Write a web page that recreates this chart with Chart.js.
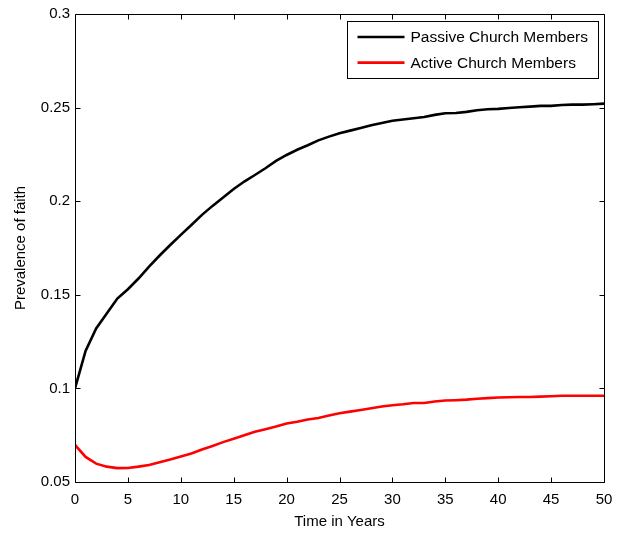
<!DOCTYPE html>
<html>
<head>
<meta charset="utf-8">
<script src="https://cdn.jsdelivr.net/npm/chart.js@4/dist/chart.umd.min.js"></script>
<style>
  html, body { margin: 0; padding: 0; background: #fff; }
  #wrap { width: 627px; height: 533px; }
</style>
</head>
<body>
<div id="wrap"><canvas id="c" width="627" height="533"></canvas></div>
<script>
const years = [0,1,2,3,4,5,6,7,8,9,10,11,12,13,14,15,16,17,18,19,20,21,22,23,24,25,26,27,28,29,30,31,32,33,34,35,36,37,38,39,40,41,42,43,44,45,46,47,48,49,50];
const passive = [0.100,0.120,0.132,0.140,0.148,0.153,0.1587,0.165,0.171,0.1766,0.182,0.1873,0.1927,0.1975,0.202,0.2065,0.2105,0.2140,0.2176,0.2215,0.2247,0.2275,0.2299,0.2325,0.2345,0.2363,0.2377,0.2391,0.2406,0.2418,0.2430,0.2436,0.2443,0.2450,0.2461,0.2470,0.2471,0.2477,0.2486,0.2491,0.2493,0.2498,0.2502,0.2505,0.2509,0.2509,0.2514,0.2516,0.2516,0.2518,0.2521];
const active = [0.0698,0.0634,0.0598,0.0582,0.0574,0.0575,0.0582,0.0591,0.0606,0.0620,0.0636,0.0652,0.0674,0.0692,0.0713,0.0731,0.0750,0.0768,0.0782,0.0796,0.0812,0.0822,0.0834,0.0842,0.0855,0.0867,0.0876,0.0885,0.0894,0.0903,0.0910,0.0915,0.0922,0.0922,0.0930,0.0935,0.0937,0.0940,0.0945,0.0948,0.0951,0.0953,0.0954,0.0954,0.0956,0.0958,0.0961,0.0961,0.0961,0.0961,0.0961];
const seriesLabels = ['Passive Church Members', 'Active Church Members'];
const xTicks = [0,5,10,15,20,25,30,35,40,45,50];
const yTicks = [0.05,0.1,0.15,0.2,0.25,0.3];
const xTitle = 'Time in Years';
const yTitle = 'Prevalence of faith';

const FONT = 'Arial, "Liberation Sans", sans-serif';

const boxPlugin = {
  id: 'boxTicks',
  afterDatasetsDraw(chart) {
    const ctx = chart.ctx;
    const a = chart.chartArea;
    const xs = chart.scales.x, ys = chart.scales.y;
    ctx.save();
    ctx.strokeStyle = '#000';
    ctx.lineWidth = 1;
    const L = Math.round(a.left) + 0.5, R = Math.round(a.right) + 0.5;
    const T = Math.round(a.top) + 0.5, B = Math.round(a.bottom) + 0.5;
    ctx.beginPath();
    ctx.rect(L, T, R - L, B - T);
    ctx.stroke();
    const tl = 5;
    ctx.beginPath();
    xTicks.forEach(v => {
      const px = Math.round(xs.getPixelForValue(v)) + 0.5;
      ctx.moveTo(px, B); ctx.lineTo(px, B - tl);
      ctx.moveTo(px, T); ctx.lineTo(px, T + tl);
    });
    yTicks.forEach(v => {
      const py = Math.round(ys.getPixelForValue(v)) + 0.5;
      ctx.moveTo(L, py); ctx.lineTo(L + tl, py);
      ctx.moveTo(R, py); ctx.lineTo(R - tl, py);
    });
    ctx.stroke();

    // legend
    const lx1 = Math.round(a.right) - 257 + 0.5, lx2 = Math.round(a.right) - 6 + 0.5;
    const ly1 = Math.round(a.top) + 7 + 0.5, ly2 = Math.round(a.top) + 64 + 0.5;
    ctx.fillStyle = '#fff';
    ctx.fillRect(lx1, ly1, lx2 - lx1, ly2 - ly1);
    ctx.strokeStyle = '#000';
    ctx.lineWidth = 1;
    ctx.strokeRect(lx1, ly1, lx2 - lx1, ly2 - ly1);
    ctx.font = '15.5px ' + FONT;
    ctx.textBaseline = 'middle';
    ctx.textAlign = 'left';
    chart.data.datasets.forEach((ds, i) => {
      const y = ly1 + 15.5 + i * 25.6;
      ctx.strokeStyle = ds.borderColor;
      ctx.lineWidth = ds.borderWidth;
      ctx.beginPath();
      ctx.moveTo(lx1 + 10, y); ctx.lineTo(lx1 + 57, y);
      ctx.stroke();
      ctx.fillStyle = '#000';
      ctx.fillText(ds.label, lx1 + 63, y + 1);
    });
    ctx.restore();
  }
};

new Chart(document.getElementById('c'), {
  type: 'line',
  data: {
    labels: years,
    datasets: [
      { label: seriesLabels[0], data: years.map((t, i) => ({x: t, y: passive[i]})), borderColor: '#000000', borderWidth: 2.6, pointRadius: 0, tension: 0, fill: false },
      { label: seriesLabels[1], data: years.map((t, i) => ({x: t, y: active[i]})), borderColor: '#ff0000', borderWidth: 2.6, pointRadius: 0, tension: 0, fill: false }
    ]
  },
  options: {
    responsive: false,
    animation: false,
    devicePixelRatio: 1,
    layout: { padding: { top: 14, right: 23, left: 0, bottom: 0 } },
    plugins: { legend: { display: false }, tooltip: { enabled: false }, title: { display: false } },
    scales: {
      x: {
        type: 'linear', min: 0, max: 50,
        afterBuildTicks(s) { s.ticks = xTicks.map(v => ({ value: v })); },
        afterFit(s) { s.height = 51; },
        grid: { display: false },
        border: { display: false },
        ticks: { color: '#000', font: { family: FONT, size: 15 }, padding: 1, maxRotation: 0, autoSkip: false, callback: v => String(v) },
        title: { display: true, text: xTitle, color: '#000', font: { family: FONT, size: 15 }, padding: { top: 0, bottom: 2 } }
      },
      y: {
        type: 'linear', min: 0.05, max: 0.3,
        afterBuildTicks(s) { s.ticks = yTicks.map(v => ({ value: v })); },
        afterFit(s) { s.width = 75; },
        grid: { display: false },
        border: { display: false },
        ticks: { color: '#000', font: { family: FONT, size: 15 }, padding: -3, autoSkip: false, callback: v => String(Number(v.toFixed(2))) },
        title: { display: true, text: yTitle, color: '#000', font: { family: FONT, size: 15 }, padding: { top: 12, bottom: 0 } }
      }
    }
  },
  plugins: [boxPlugin]
});
</script>
</body>
</html>
